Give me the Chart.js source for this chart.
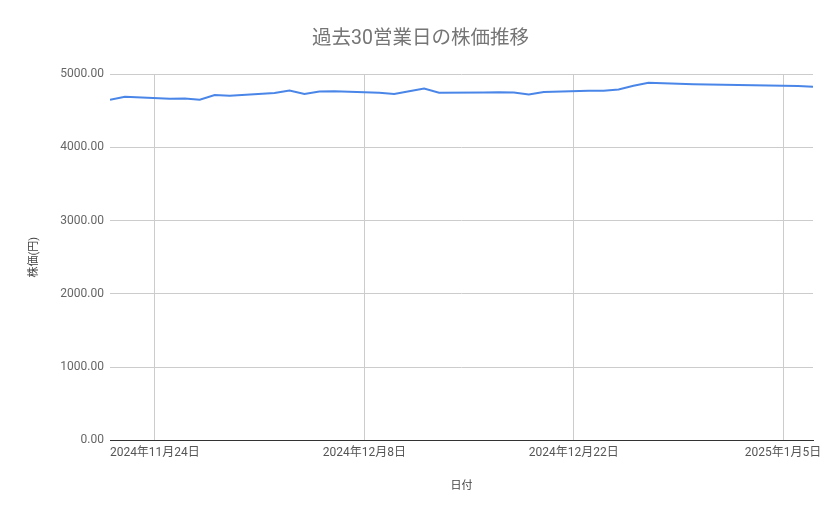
<!DOCTYPE html>
<html lang="ja">
<head>
<meta charset="utf-8">
<script src="https://cdn.jsdelivr.net/npm/chart.js@4/dist/chart.umd.min.js"></script>
<style>
  html, body { margin: 0; padding: 0; background: #fff; }
  #wrap { width: 839px; height: 519px; }
</style>
</head>
<body>
<div id="wrap"><canvas id="priceChart" width="839" height="519"></canvas></div>
<script>
// 日付（営業日）
const dates = [
    '2024-11-21', '2024-11-22', '2024-11-25', '2024-11-26', '2024-11-27', '2024-11-28', '2024-11-29',
    '2024-12-02', '2024-12-03', '2024-12-04', '2024-12-05', '2024-12-06',
    '2024-12-09', '2024-12-10', '2024-12-11', '2024-12-12', '2024-12-13',
    '2024-12-16', '2024-12-17', '2024-12-18', '2024-12-19', '2024-12-20',
    '2024-12-23', '2024-12-24', '2024-12-25', '2024-12-26', '2024-12-27',
    '2024-12-30', '2025-01-06', '2025-01-07'
];

// 株価（円）
const prices = [
    4650, 4690, 4663, 4665, 4650, 4713, 4703,
    4740, 4776, 4726, 4762, 4764,
    4745, 4726, 4765, 4803, 4744,
    4748, 4750, 4746, 4720, 4754,
    4772, 4770, 4790, 4840, 4882,
    4860, 4835, 4825
];

// 目盛り
const xTickDates = ['2024-11-24', '2024-12-08', '2024-12-22', '2025-01-05'];
const yTicks = [0, 1000, 2000, 3000, 4000, 5000];
const xRange = ['2024-11-21', '2025-01-07'];

const DAY = 86400000;
const toDay = s => Date.parse(s + 'T00:00:00Z') / DAY;
const fmtDate = d => {
    const t = new Date(d * DAY);
    return `${t.getUTCFullYear()}年${t.getUTCMonth() + 1}月${t.getUTCDate()}日`;
};

const fontFamily = "Roboto, 'Noto Sans CJK JP', sans-serif";
const points = dates.map((d, i) => ({ x: toDay(d), y: prices[i] }));

new Chart(document.getElementById('priceChart').getContext('2d'), {
    type: 'line',
    data: {
        datasets: [{
            label: '株価',
            data: points,
            borderColor: '#4a86e8',
            borderWidth: 2,
            pointRadius: 0,
            tension: 0,
            fill: false
        }]
    },
    options: {
        responsive: false,
        animation: false,
        layout: { padding: { left: 28, right: 26, top: 0, bottom: 26 } },
        plugins: {
            legend: { display: false },
            tooltip: { enabled: false },
            title: {
                display: true,
                text: '過去30営業日の株価推移',
                color: '#757575',
                font: { family: fontFamily, size: 19.5, weight: 'normal' },
                padding: { top: 27, bottom: 23.6 }
            }
        },
        scales: {
            x: {
                type: 'linear',
                min: toDay(xRange[0]),
                max: toDay(xRange[1]),
                afterBuildTicks: scale => {
                    scale.ticks = xTickDates.map(d => ({ value: toDay(d) }));
                },
                ticks: {
                    callback: v => fmtDate(v),
                    color: '#555',
                    font: { family: fontFamily, size: 12 },
                    padding: 5,
                    maxRotation: 0,
                    autoSkip: false
                },
                grid: { color: '#cccccc', drawTicks: false },
                border: { display: true, color: '#333333', width: 1 },
                title: {
                    display: true,
                    text: '日付',
                    color: '#444',
                    font: { family: fontFamily, size: 11 },
                    padding: { top: 15, bottom: 0 }
                }
            },
            y: {
                min: 0,
                max: 5000,
                afterBuildTicks: scale => {
                    scale.ticks = yTicks.map(v => ({ value: v }));
                },
                afterFit: scale => { scale.width = 82; },
                ticks: {
                    callback: v => v.toFixed(2),
                    color: '#666',
                    font: { family: fontFamily, size: 12 },
                    padding: 6
                },
                grid: { color: '#cccccc', drawTicks: false },
                border: { display: false },
                title: {
                    display: true,
                    text: '株価(円)',
                    color: '#444',
                    font: { family: fontFamily, size: 11 },
                    padding: 0
                }
            }
        }
    }
});
</script>
</body>
</html>
